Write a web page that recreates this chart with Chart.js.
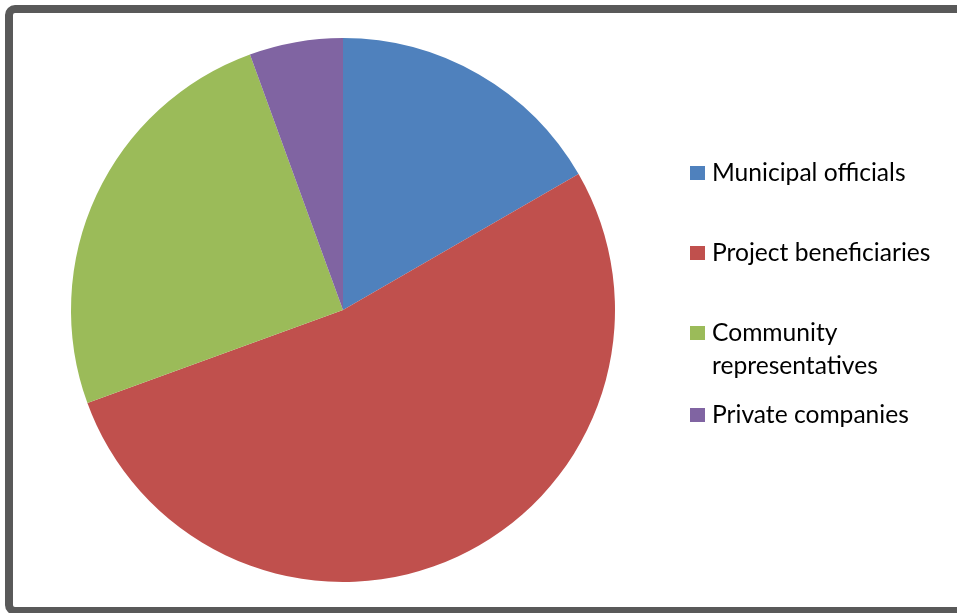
<!DOCTYPE html>
<html><head><meta charset="utf-8">
<script src="https://cdn.jsdelivr.net/npm/chart.js@4/dist/chart.umd.min.js"></script>
<style>html,body{margin:0;padding:0;background:#fff;}#wrap{position:relative;width:957px;height:613px;}</style>
</head><body><div id="wrap"><canvas id="c" width="957" height="613"></canvas></div>
<script>
const categories = ["Municipal officials", "Project beneficiaries", "Community representatives", "Private companies"];
const legendLines = [["Municipal officials"], ["Project beneficiaries"], ["Community", "representatives"], ["Private companies"]];
const values = [6, 19, 9, 2];
const colors = ["#4F81BD", "#C0504D", "#9BBB59", "#8064A2"];
const legendRowY = [173, 253, 333, 415];

const framePlugin = {
  id: 'frame',
  beforeDraw(chart) {
    const ctx = chart.ctx;
    ctx.save();
    ctx.fillStyle = '#fff';
    ctx.fillRect(0, 0, chart.width, chart.height);
    ctx.strokeStyle = '#595959';
    ctx.lineWidth = 8;
    ctx.beginPath();
    ctx.roundRect(9, 9, 980, 602, 6);
    ctx.stroke();
    ctx.restore();
  },
  afterDraw(chart) {
    const ctx = chart.ctx;
    ctx.save();
    ctx.font = '24.6px Lato';
    ctx.textBaseline = 'middle';
    legendLines.forEach((lines, i) => {
      const y = legendRowY[i];
      ctx.fillStyle = colors[i];
      ctx.fillRect(690, y - 7, 15, 14);
      ctx.fillStyle = '#000';
      lines.forEach((t, j) => ctx.fillText(t, 712, y + j * 33));
    });
    ctx.restore();
  }
};

new Chart(document.getElementById('c'), {
  type: 'pie',
  data: { labels: categories, datasets: [{ data: values, backgroundColor: colors, borderWidth: 0 }] },
  options: {
    responsive: false,
    animation: false,
    layout: { padding: { left: 71, right: 342, top: 38, bottom: 31 } },
    plugins: { legend: { display: false }, tooltip: { enabled: false } }
  },
  plugins: [framePlugin]
});
</script></body></html>
